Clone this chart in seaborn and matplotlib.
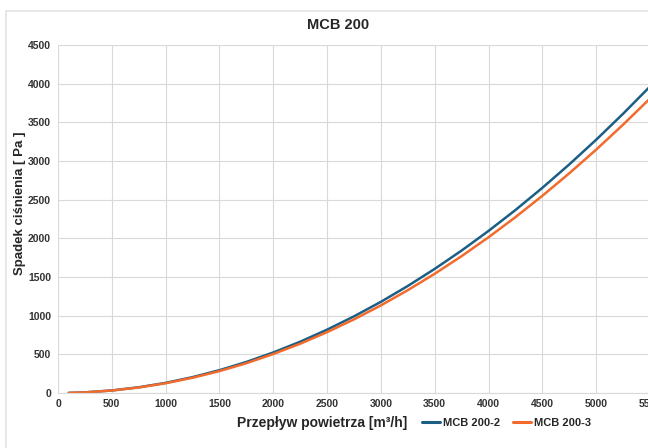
import pandas as pd
import matplotlib.pyplot as plt
import seaborn as sns
from matplotlib.patches import Rectangle

# przepływ powietrza [m3/h] i spadek ciśnienia [Pa]
przeplyw = [100, 250, 500, 750, 1000, 1250, 1500, 1750, 2000, 2250, 2500, 2750,
            3000, 3250, 3500, 3750, 4000, 4250, 4500, 4750, 5000, 5250, 5500]
mcb_200_2 = [1.3, 8, 33, 74, 131, 205, 295, 401, 524, 663, 819, 991,
             1179, 1384, 1605, 1842, 2096, 2366, 2653, 2956, 3275, 3611, 3963]
mcb_200_3 = [1.2, 8, 32, 71, 126, 197, 283, 385, 504, 637, 787, 952,
             1133, 1330, 1542, 1770, 2014, 2274, 2550, 2841, 3147, 3470, 3808]
serie = ["MCB 200-2", "MCB 200-3"]
kolory = ["#1b5f85", "#f26b2c"]

df = pd.DataFrame({"Przeplyw": przeplyw, serie[0]: mcb_200_2, serie[1]: mcb_200_3})
df_long = df.melt(id_vars="Przeplyw", var_name="Seria", value_name="Spadek")

sns.set_style("whitegrid", {"grid.color": "#d9d9d9", "axes.edgecolor": "#d9d9d9"})
plt.rcParams["font.family"] = ["Liberation Sans", "DejaVu Sans"]

fig = plt.figure(figsize=(6.48, 4.48), dpi=100)
ax = fig.add_axes([58 / 648, 1 - 393 / 448, 592 / 648, 348 / 448])

# ramka wykresu
fig.patches.append(Rectangle((6 / 648, -0.2), 1.2, 1 - 11 / 448 + 0.2,
                             transform=fig.transFigure, fill=False,
                             edgecolor="#e3e3e3", linewidth=1.2))

sns.lineplot(data=df_long, x="Przeplyw", y="Spadek", hue="Seria",
             palette=kolory, linewidth=1.8, ax=ax, legend=False)

ax.set_xlim(0, 5500)
ax.set_ylim(0, 4500)
ax.set_xticks(range(0, 5501, 500))
ax.set_yticks(range(0, 4501, 500))
for sp in ["top", "right", "left"]:
    ax.spines[sp].set_visible(False)
ax.spines["bottom"].set_color("#d9d9d9")
ax.tick_params(axis="both", length=0, labelsize=7.5, labelcolor="#333333")
ax.tick_params(axis="x", pad=4)
ax.tick_params(axis="y", pad=5)
for lab in ax.get_xticklabels() + ax.get_yticklabels():
    lab.set_fontweight("bold")
ax.set_xlabel("")
ax.set_ylabel("")

fig.text(20 / 648, 1 - 203 / 448, "Spadek ciśnienia [ Pa ]", rotation=90,
         ha="center", va="center", fontsize=9.5, fontweight="bold", color="#262626")
fig.text(338 / 648, 1 - 25 / 448, "MCB 200", ha="center", va="center",
         fontsize=10.5, fontweight="bold", color="#262626")
fig.text(322 / 648, 1 - 423 / 448, "Przepływ powietrza [m³/h]", ha="center",
         va="center", fontsize=10, fontweight="bold", color="#262626")

uchwyty = [plt.Line2D([], [], color=c, linewidth=2.2) for c in kolory]
leg = fig.legend(uchwyty, serie, loc="center left", ncol=2, frameon=False,
                 bbox_to_anchor=(414 / 648, 1 - 423 / 448), fontsize=8,
                 handlelength=1.6, handletextpad=0.35, columnspacing=1.1,
                 borderpad=0.2)
for t in leg.get_texts():
    t.set_fontweight("bold")
    t.set_color("#262626")

fig.savefig("out.png", dpi=100)
